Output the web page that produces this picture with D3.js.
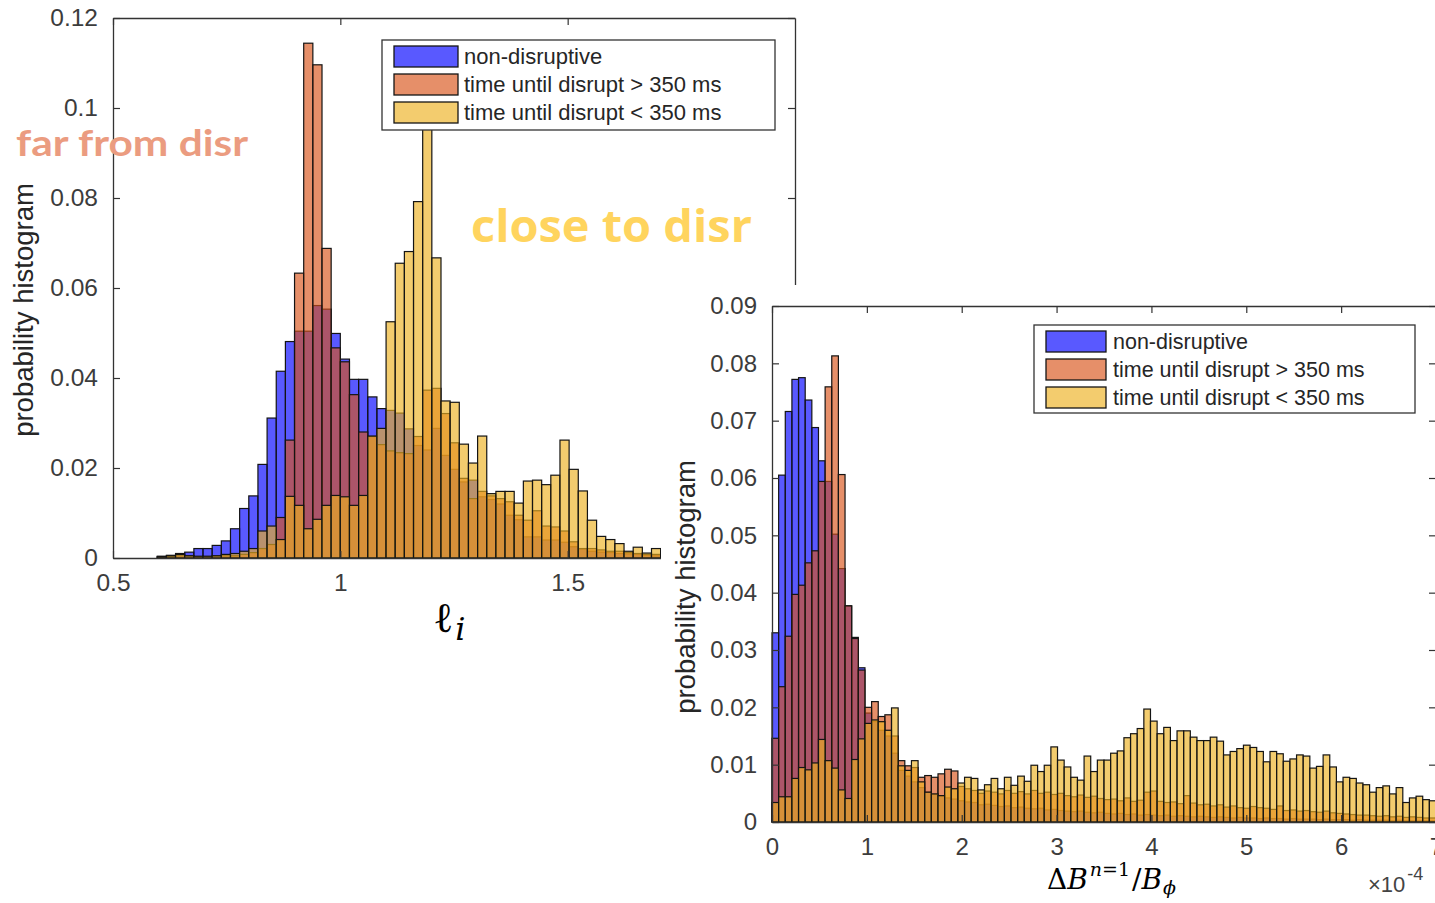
<!DOCTYPE html>
<html><head><meta charset="utf-8">
<script src="https://cdn.jsdelivr.net/npm/d3@7/dist/d3.min.js"></script>
<style>body{margin:0;background:#fff} svg{display:block}</style>
</head><body>
<svg id="c" width="1435" height="903"></svg>
<script>
// ---------- DATA ----------
const seriesNames = ["non-disruptive", "time until disrupt > 350 ms", "time until disrupt < 350 ms"];
const seriesColors = ["#0000ff", "#d95319", "#edb120"];

// left histogram (ℓ_i), uniform bins
const leftBinStart = 0.4967, leftBinWidth = 0.02013;
const leftNonDisruptive = [0,0,0,0,0,0.0004,0.0006,0.0010,0.0013,0.0021,0.0021,0.0028,0.0038,0.0065,0.0110,0.0138,0.0208,0.0311,0.0415,0.0481,0.0504,0.0504,0.0561,0.0553,0.0499,0.0442,0.0397,0.0397,0.0358,0.0332,0.0328,0.0322,0.0287,0.0250,0.0240,0.0288,0.0228,0.0197,0.0169,0.0173,0.0136,0.0130,0.0120,0.0095,0.0085,0.0047,0.0047,0.0040,0.0040,0.0035,0.0025,0.0020,0.0015,0.0013,0.0012,0.0010,0.0009,0.0008,0.0006,0.0005,0.0005];
const leftFar = [0,0,0,0,0,0.0002,0.0003,0.0005,0.0004,0.0003,0.0003,0.0004,0.0005,0.0005,0.0008,0.0012,0.0021,0.0030,0.0090,0.0262,0.0633,0.1144,0.1096,0.0688,0.0467,0.0436,0.0363,0.0280,0.0270,0.0252,0.0238,0.0234,0.0232,0.0270,0.0373,0.0377,0.0321,0.0256,0.0177,0.0132,0.0148,0.0138,0.0132,0.0125,0.0095,0.0084,0.0105,0.0071,0.0069,0.0060,0.0036,0.0021,0.0021,0.0018,0.0015,0.0015,0.0012,0.0010,0.0008,0.0008,0.0006];
const leftClose = [0,0,0,0,0,0.0003,0.0005,0.0008,0.0005,0.0004,0.0004,0.0005,0.0008,0.0010,0.0015,0.0021,0.0060,0.0071,0.0041,0.0137,0.0117,0.0065,0.0086,0.0117,0.0139,0.0136,0.0117,0.0139,0.0271,0.0288,0.0525,0.0655,0.0681,0.0792,0.0980,0.0667,0.0349,0.0346,0.0253,0.0211,0.0271,0.0143,0.0148,0.0148,0.0122,0.0171,0.0173,0.0163,0.0184,0.0262,0.0197,0.0149,0.0084,0.0048,0.0041,0.0032,0.0015,0.0024,0.0011,0.0021,0.0016];
const leftXTicks = [0.5, 1, 1.5];
const leftXLabels = ["0.5", "1", "1.5"];
const leftYTicks = [0, 0.02, 0.04, 0.06, 0.08, 0.1, 0.12];
const leftYLabels = ["0", "0.02", "0.04", "0.06", "0.08", "0.1", "0.12"];

// right histogram (ΔB/Bφ, ×1e-4), uniform bins
const rightBinStart = 0, rightBinWidth = 0.07;
const rightNonDisruptive = [0.0330,0.0605,0.0716,0.0772,0.0775,0.0736,0.0688,0.0630,0.0594,0.0502,0.0442,0.0377,0.0322,0.0269,0.0190,0.0175,0.0160,0.0150,0.0120,0.0090,0.0080,0.0070,0.0060,0.0052,0.0048,0.0045,0.0042,0.0040,0.0037,0.0035,0.0034,0.0030,0.0031,0.0029,0.0027,0.0028,0.0025,0.0026,0.0024,0.0023,0.0024,0.0021,0.0022,0.0020,0.0019,0.0018,0.0019,0.0017,0.0016,0.0017,0.0015,0.0014,0.0015,0.0013,0.0014,0.0012,0.0013,0.0012,0.0011,0.0012,0.0010,0.0011,0.0010,0.0009,0.0010,0.0009,0.0008,0.0009,0.0008,0.0007,0.0008,0.0007,0.0007,0.0006,0.0007,0.0006,0.0006,0.0005,0.0006,0.0005,0.0005,0.0005,0.0004,0.0005,0.0004,0.0004,0.0004,0.0003,0.0004,0.0003,0.0003,0.0003,0.0003,0.0002,0.0003,0.0002,0.0002,0.0002,0.0002,0.0002];
const rightFar = [0.0146,0.0236,0.0324,0.0397,0.0413,0.0452,0.0473,0.0594,0.0759,0.0813,0.0606,0.0377,0.0320,0.0265,0.0200,0.0210,0.0184,0.0187,0.0150,0.0107,0.0098,0.0095,0.0078,0.0081,0.0078,0.0084,0.0092,0.0089,0.0062,0.0058,0.0055,0.0050,0.0054,0.0052,0.0049,0.0055,0.0050,0.0053,0.0049,0.0055,0.0050,0.0052,0.0048,0.0050,0.0046,0.0044,0.0047,0.0043,0.0045,0.0041,0.0039,0.0040,0.0037,0.0042,0.0036,0.0038,0.0052,0.0054,0.0036,0.0034,0.0035,0.0032,0.0046,0.0033,0.0030,0.0031,0.0028,0.0030,0.0026,0.0028,0.0025,0.0024,0.0027,0.0025,0.0024,0.0022,0.0028,0.0020,0.0021,0.0019,0.0020,0.0018,0.0017,0.0019,0.0016,0.0015,0.0014,0.0013,0.0012,0.0012,0.0011,0.0010,0.0011,0.0009,0.0010,0.0008,0.0009,0.0008,0.0007,0.0007];
const rightClose = [0.0034,0.0044,0.0044,0.0076,0.0095,0.0091,0.0103,0.0144,0.0107,0.0094,0.0056,0.0041,0.0109,0.0145,0.0172,0.0178,0.0175,0.0160,0.0199,0.0098,0.0090,0.0107,0.0070,0.0052,0.0049,0.0046,0.0061,0.0058,0.0068,0.0078,0.0076,0.0056,0.0065,0.0076,0.0058,0.0078,0.0064,0.0080,0.0071,0.0099,0.0088,0.0099,0.0131,0.0108,0.0096,0.0078,0.0073,0.0115,0.0088,0.0108,0.0108,0.0120,0.0124,0.0147,0.0154,0.0163,0.0197,0.0176,0.0154,0.0165,0.0142,0.0159,0.0159,0.0148,0.0142,0.0142,0.0148,0.0141,0.0117,0.0123,0.0128,0.0134,0.0130,0.0123,0.0105,0.0123,0.0119,0.0106,0.0110,0.0117,0.0115,0.0094,0.0097,0.0117,0.0096,0.0070,0.0078,0.0076,0.0068,0.0065,0.0052,0.0060,0.0063,0.0049,0.0060,0.0034,0.0042,0.0045,0.0039,0.0037];
const rightXTicks = [0, 1, 2, 3, 4, 5, 6, 7];
const rightXLabels = ["0", "1", "2", "3", "4", "5", "6", "7"];
const rightYTicks = [0, 0.01, 0.02, 0.03, 0.04, 0.05, 0.06, 0.07, 0.08, 0.09];
const rightYLabels = ["0", "0.01", "0.02", "0.03", "0.04", "0.05", "0.06", "0.07", "0.08", "0.09"];

// ---------- DRAW ----------
const svg = d3.select("#c");
const AX = "#333";
const TXT = "#3c3c3c";
const FONT = "'Liberation Sans', Arial, Helvetica, sans-serif";

function drawHist(g, xs, ys, start, width, values, color) {
  g.append("g").selectAll("rect")
    .data(values.map((v, i) => ({v, i})).filter(d => d.v > 0))
    .join("rect")
    .attr("x", d => xs(start + d.i * width))
    .attr("width", d => xs(start + (d.i + 1) * width) - xs(start + d.i * width))
    .attr("y", d => ys(d.v))
    .attr("height", d => ys(0) - ys(d.v))
    .attr("fill", color).attr("fill-opacity", 0.65)
    .attr("stroke", "#141414").attr("stroke-width", 1.2);
}

function styleAxis(sel, fs) {
  sel.attr("color", AX);
  sel.select(".domain").attr("stroke", AX).attr("stroke-width", 1.3);
  sel.selectAll(".tick line").attr("stroke", AX).attr("stroke-width", 1.2);
  sel.selectAll(".tick text").attr("font-family", FONT).attr("font-size", fs).attr("fill", TXT);
}

function drawAxes(g, xs, ys, xt, xl, yt, yl, fs) {
  const [x0, x1] = xs.range(), [y0, y1] = ys.range();
  g.append("g").attr("transform", `translate(0,${y0})`)
    .call(d3.axisBottom(xs).tickValues(xt).tickFormat((d, i) => xl[i]).tickSizeInner(-7).tickSizeOuter(0).tickPadding(16))
    .call(s => styleAxis(s, fs));
  g.append("g").attr("transform", `translate(0,${y1})`)
    .call(d3.axisTop(xs).tickValues(xt).tickFormat("").tickSizeInner(-7).tickSizeOuter(0))
    .call(s => styleAxis(s, fs));
  g.append("g").attr("transform", `translate(${x0},0)`)
    .call(d3.axisLeft(ys).tickValues(yt).tickFormat((d, i) => yl[i]).tickSizeInner(-7).tickSizeOuter(0).tickPadding(15))
    .call(s => styleAxis(s, fs));
  g.append("g").attr("transform", `translate(${x1},0)`)
    .call(d3.axisRight(ys).tickValues(yt).tickFormat("").tickSizeInner(-7).tickSizeOuter(0))
    .call(s => styleAxis(s, fs));
}

function drawLegend(g, x, y, w, h, swX, swW, textX, rowY0, rowStep, fs) {
  g.append("rect").attr("x", x).attr("y", y).attr("width", w).attr("height", h)
    .attr("fill", "#fff").attr("stroke", AX).attr("stroke-width", 1.3);
  seriesNames.forEach((name, i) => {
    const ry0 = rowY0 + i * rowStep;
    g.append("rect").attr("x", swX).attr("y", ry0).attr("width", swW).attr("height", 21)
      .attr("fill", seriesColors[i]).attr("fill-opacity", 0.65)
      .attr("stroke", "#141414").attr("stroke-width", 1.3);
    g.append("text").attr("x", textX).attr("y", ry0 + 17.5).text(name)
      .attr("font-family", FONT).attr("font-size", fs).attr("fill", "#262626");
  });
}

// ---- left chart ----
const L = svg.append("g");
const lx = d3.scaleLinear().domain([0.5, 2]).range([113, 795]);
const ly = d3.scaleLinear().domain([0, 0.12]).range([558, 18]);
[leftNonDisruptive, leftFar, leftClose].forEach((vals, i) =>
  drawHist(L, lx, ly, leftBinStart, leftBinWidth, vals, seriesColors[i]));
drawAxes(L, lx, ly, leftXTicks, leftXLabels, leftYTicks, leftYLabels, 24.5);
drawLegend(L, 382, 40, 393, 90, 394, 64, 464, 46, 28, 22);
L.append("text").attr("transform", "translate(33,310) rotate(-90)").attr("text-anchor", "middle")
  .attr("font-family", FONT).attr("font-size", 27.5).attr("fill", "#262626").text("probability histogram");
// x label ℓ_i
const lt = L.append("text").attr("x", 433).attr("y", 632).attr("font-family", "'DejaVu Serif', serif").attr("fill", "#000");
lt.append("tspan").attr("font-size", 42).text("ℓ");
lt.append("tspan").attr("font-size", 32).attr("font-style", "italic").attr("dx", 2).attr("dy", 8).text("i");

// annotations
L.append("text").attr("x", 16).attr("y", 156).attr("font-family", "Lato, 'Open Sans', sans-serif")
  .attr("font-weight", 700).attr("font-size", 37).attr("fill", "#eb9c80")
  .attr("textLength", 232).attr("lengthAdjust", "spacingAndGlyphs").text("far from disr");
L.append("text").attr("x", 471).attr("y", 242).attr("font-family", "'Open Sans', Lato, sans-serif")
  .attr("font-weight", 700).attr("font-size", 44).attr("fill", "#ffd45e")
  .attr("textLength", 281).attr("lengthAdjust", "spacingAndGlyphs").text("close to disr");

// ---- right chart panel ----
svg.append("rect").attr("x", 661).attr("y", 285).attr("width", 774).attr("height", 618).attr("fill", "#fff");
const R = svg.append("g");
const rx = d3.scaleLinear().domain([0, 7]).range([772, 1436]);
const ry = d3.scaleLinear().domain([0, 0.09]).range([822, 306]);
[rightNonDisruptive, rightFar, rightClose].forEach((vals, i) =>
  drawHist(R, rx, ry, rightBinStart, rightBinWidth, vals, seriesColors[i]));
drawAxes(R, rx, ry, rightXTicks, rightXLabels, rightYTicks, rightYLabels, 24);
drawLegend(R, 1034, 325, 381, 88, 1046, 60, 1113, 331, 28, 21.5);
R.append("text").attr("transform", "translate(695,587) rotate(-90)").attr("text-anchor", "middle")
  .attr("font-family", FONT).attr("font-size", 27.5).attr("fill", "#262626").text("probability histogram");

// x label ΔB^{n=1}/B_φ
const rt = R.append("text").attr("x", 1047).attr("y", 889).attr("font-family", "'DejaVu Serif', serif").attr("fill", "#000").attr("font-size", 28);
rt.append("tspan").text("Δ");
rt.append("tspan").attr("font-style", "italic").text("B");
rt.append("tspan").attr("font-size", 19).attr("dy", -13).attr("dx", 2).attr("font-style", "italic").text("n");
rt.append("tspan").attr("font-size", 19).text("=1");
rt.append("tspan").attr("dy", 13).attr("dx", 2).text("/");
rt.append("tspan").attr("font-style", "italic").text("B");
rt.append("tspan").attr("font-size", 19).attr("dy", 5).attr("dx", 1).attr("font-style", "italic").text("ϕ");

// exponent
const ex = R.append("text").attr("x", 1368).attr("y", 892).attr("font-family", FONT).attr("fill", "#444").attr("font-size", 22);
ex.append("tspan").text("×10");
ex.append("tspan").attr("font-size", 18).attr("dy", -12).attr("dx", 2).text("-4");
</script>
</body></html>
